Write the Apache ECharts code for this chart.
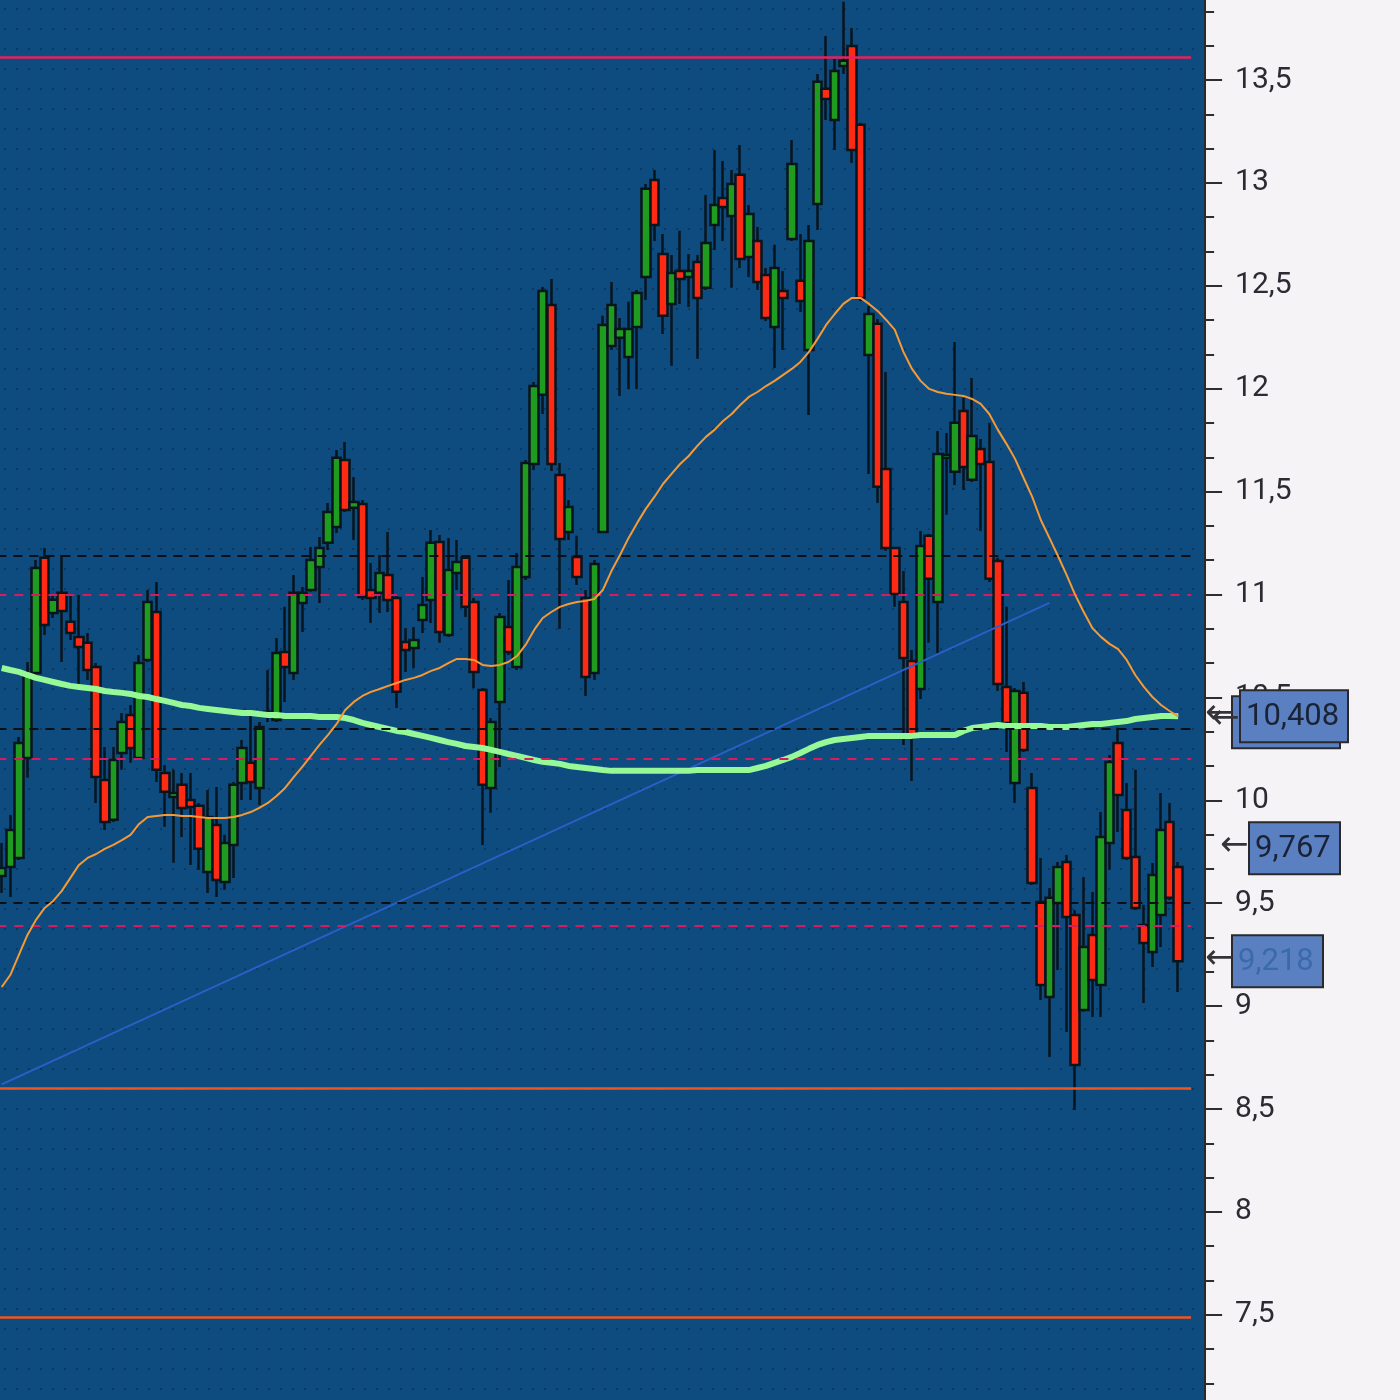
<!DOCTYPE html>
<html><head><meta charset="utf-8">
<script src="https://cdn.jsdelivr.net/npm/echarts@6/dist/echarts.min.js"></script>
<style>html,body{margin:0;padding:0;background:#f6f3f6}#c{width:1400px;height:1400px}</style>
</head><body><div id="c"></div>
<script>
// ---------------- DATA ----------------
const opens = [
9.632,9.676,9.720,10.206,10.619,11.178,10.910,11.008,10.867,10.794,
10.765,10.648,10.099,9.905,10.230,10.415,10.206,10.682,10.915,10.133,
10.016,10.075,10.002,9.973,9.652,9.880,9.603,9.783,10.084,10.182,
10.060,10.410,10.390,10.721,10.619,10.959,11.022,11.134,11.251,11.328,
11.654,11.421,11.440,11.022,11.008,11.095,10.983,10.769,10.740,10.876,
10.973,11.255,10.803,11.105,11.178,10.964,10.536,10.060,10.478,10.842,
10.648,11.085,11.634,11.970,12.407,11.581,11.304,11.182,10.983,10.619,
11.304,12.208,12.247,12.154,12.300,12.543,13.014,12.655,12.412,12.572,
12.543,12.616,12.490,12.796,12.927,12.839,13.039,12.640,12.718,12.553,
12.300,12.475,12.728,12.524,12.188,12.898,13.457,13.306,13.568,13.665,
13.282,12.164,12.315,11.610,11.226,10.964,10.677,10.541,11.285,10.964,
11.664,11.596,11.892,11.557,11.707,11.644,11.163,10.551,10.084,10.522,
10.060,9.506,9.044,9.501,9.700,9.443,8.981,9.346,9.103,9.793,
10.279,9.953,9.725,9.394,9.263,9.443,9.895,9.676];
const closes = [
9.671,9.856,10.279,10.619,11.129,10.852,10.974,10.920,10.813,10.745,
10.633,10.113,9.895,10.196,10.381,10.254,10.667,10.964,10.148,10.041,
10.036,9.963,9.968,9.764,9.919,9.613,9.793,10.075,10.254,10.089,
10.356,10.430,10.716,10.648,11.008,11.008,11.168,11.226,11.401,11.664,
11.411,11.450,10.988,10.983,11.105,10.973,10.527,10.730,10.779,10.949,
11.251,10.818,11.119,11.158,10.940,10.624,10.075,10.381,10.891,10.721,
11.134,11.639,12.013,12.475,11.634,11.270,11.425,11.085,10.599,11.148,
12.310,12.407,12.290,12.290,12.465,12.971,12.796,12.354,12.562,12.533,
12.572,12.441,12.708,12.893,12.883,12.995,12.630,12.849,12.519,12.344,
12.587,12.441,13.092,12.426,12.718,13.491,13.408,13.544,13.593,13.160,
12.441,12.363,11.523,11.226,11.003,10.692,10.318,11.236,11.076,11.683,
11.679,11.834,11.620,11.770,11.634,11.076,10.565,10.376,10.531,10.245,
9.598,9.103,9.526,9.676,9.433,8.714,9.287,9.127,9.822,10.186,
10.026,9.720,9.477,9.307,9.637,9.856,9.526,9.218];
const lows = [
9.550,9.530,9.710,10.109,10.595,10.803,10.886,10.672,10.779,10.551,
10.585,9.987,9.856,9.895,10.148,10.182,10.196,10.672,10.089,9.871,
9.696,9.822,9.686,9.662,9.550,9.530,9.565,9.623,10.002,10.002,
9.977,10.381,10.381,10.478,10.585,10.818,11.013,10.959,11.216,11.299,
11.401,11.265,10.973,10.862,10.910,10.915,10.449,10.624,10.643,10.813,
10.862,10.765,10.794,11.022,10.891,10.546,9.783,9.939,10.162,10.706,
10.633,11.071,11.605,11.877,11.600,10.833,11.265,11.046,10.507,10.585,
11.304,12.188,11.965,11.999,11.999,12.431,12.718,12.266,12.111,12.412,
12.397,12.145,12.480,12.674,12.718,12.490,12.587,12.543,12.480,12.329,
12.101,12.188,12.718,12.373,11.872,12.771,13.306,13.160,13.529,13.097,
12.426,11.586,11.445,11.212,10.940,10.269,10.094,10.492,10.765,10.716,
11.387,11.532,11.508,11.547,11.309,11.061,10.531,10.235,9.987,10.235,
9.589,9.030,8.753,9.176,8.874,8.495,8.972,8.947,8.947,9.662,
9.846,9.710,9.467,9.015,9.190,9.287,9.516,9.069];
const highs = [
9.793,9.929,10.308,10.672,11.168,11.226,10.998,11.192,10.998,10.998,
10.813,10.667,10.259,10.259,10.424,10.463,10.706,11.022,11.061,10.172,
10.148,10.133,10.133,9.987,10.050,10.065,9.832,10.089,10.293,10.424,
10.381,10.633,10.789,10.940,11.095,11.037,11.231,11.280,11.445,11.702,
11.741,11.571,11.459,11.153,11.192,11.304,10.993,10.837,10.842,11.085,
11.314,11.289,11.275,11.265,11.192,10.983,10.546,10.400,10.910,11.071,
11.202,11.654,12.033,12.494,12.533,11.639,11.459,11.285,11.022,11.168,
12.354,12.519,12.344,12.422,12.480,12.995,13.063,12.752,12.650,12.767,
12.655,12.650,12.941,13.160,13.107,13.063,13.184,12.893,12.786,12.587,
12.699,12.572,13.209,12.752,12.796,13.529,13.714,13.602,13.880,13.753,
13.292,12.402,12.339,12.081,11.226,11.114,10.730,11.309,11.294,11.795,
11.785,12.227,11.955,12.052,11.756,11.834,11.178,10.940,10.546,10.575,
10.133,9.720,9.574,9.700,9.734,9.467,9.627,9.555,9.943,10.220,
10.352,10.084,10.148,9.492,9.695,10.036,9.987,9.700];
const maGreen = [
10.643,10.633,10.624,10.609,10.595,10.585,10.575,10.565,10.556,10.551,
10.546,10.541,10.531,10.526,10.522,10.517,10.507,10.502,10.492,10.483,
10.473,10.463,10.458,10.449,10.444,10.439,10.434,10.429,10.424,10.424,
10.419,10.415,10.415,10.410,10.410,10.410,10.410,10.405,10.405,10.405,
10.400,10.390,10.376,10.366,10.356,10.347,10.337,10.332,10.322,10.313,
10.303,10.293,10.283,10.274,10.264,10.259,10.254,10.245,10.235,10.225,
10.216,10.206,10.196,10.187,10.182,10.177,10.167,10.162,10.157,10.152,
10.147,10.143,10.143,10.143,10.143,10.143,10.143,10.143,10.143,10.143,
10.143,10.147,10.147,10.147,10.147,10.147,10.147,10.147,10.157,10.167,
10.182,10.196,10.211,10.230,10.250,10.269,10.283,10.293,10.298,10.303,
10.308,10.313,10.313,10.313,10.313,10.313,10.313,10.317,10.317,10.317,
10.317,10.317,10.337,10.351,10.356,10.361,10.366,10.361,10.361,10.361,
10.361,10.361,10.356,10.356,10.356,10.361,10.366,10.371,10.371,10.376,
10.381,10.385,10.395,10.400,10.405,10.410,10.410,10.408];
const maOrange = [
9.093,9.151,9.249,9.346,9.419,9.477,9.511,9.560,9.623,9.686,
9.720,9.739,9.764,9.783,9.807,9.832,9.885,9.919,9.924,9.929,
9.929,9.924,9.924,9.919,9.914,9.914,9.914,9.919,9.929,9.943,
9.963,9.987,10.021,10.060,10.113,10.162,10.216,10.269,10.318,10.371,
10.439,10.478,10.507,10.527,10.541,10.556,10.570,10.585,10.595,10.609,
10.629,10.643,10.667,10.687,10.687,10.682,10.658,10.653,10.658,10.672,
10.701,10.755,10.828,10.886,10.915,10.940,10.954,10.964,10.969,10.978,
11.022,11.114,11.192,11.275,11.348,11.416,11.474,11.537,11.586,11.634,
11.673,11.722,11.766,11.800,11.843,11.877,11.921,11.960,11.984,12.013,
12.038,12.067,12.096,12.130,12.179,12.242,12.310,12.363,12.412,12.441,
12.441,12.412,12.378,12.334,12.286,12.179,12.096,12.038,11.999,11.984,
11.975,11.970,11.965,11.950,11.926,11.877,11.800,11.732,11.659,11.566,
11.474,11.362,11.275,11.187,11.095,10.998,10.915,10.837,10.794,10.760,
10.735,10.682,10.609,10.551,10.502,10.463,10.434,10.408];
const trendPoints = [[0, 8.620], [122, 10.959]];
const solidLevels = [13.612, 8.602, 7.494];
const blackDashedLevels = [11.192, 10.347, 9.501];
const pinkDashedLevels = [11.003, 10.196, 9.389];
const priceTags = ['10,408', '9,767', '9,218'];
const priceTagValues = [10.408, 9.767, 9.218];
const yMin = 7, yMax = 14, yStep = 0.5;
const categories = opens.map((_, i) => String(i + 1)).concat(['']);

// ---------------- STYLE / LAYOUT ----------------
const solidColors = ['#e6225e', '#f3561c', '#f3561c'];
const candleData = opens.map((o, i) => [o, closes[i], lows[i], highs[i]]);

const pc = document.createElement('canvas');
pc.width = 12; pc.height = 20;
const g = pc.getContext('2d');
g.fillStyle = '#0e4b7e'; g.fillRect(0, 0, 12, 20);
g.fillStyle = '#0a3864'; g.fillRect(4, 8, 2, 2);

const chart = echarts.init(document.getElementById('c'), null, {renderer: 'canvas'});
const markData = [];
solidLevels.forEach((v, i) => markData.push({yAxis: v, lineStyle: {color: solidColors[i], width: 2.5, type: 'solid'}}));
blackDashedLevels.forEach(v => markData.push({yAxis: v, lineStyle: {color: '#0d0f14', width: 2, type: [9, 7]}}));
pinkDashedLevels.forEach(v => markData.push({yAxis: v, lineStyle: {color: '#d81a5e', width: 2, type: [9, 8]}}));

chart.setOption({
  animation: false,
  backgroundColor: '#f6f3f6',
  grid: {left: -2.594, top: -22.9, width: 1193.7, height: 1440.6, containLabel: false, outerBoundsMode: 'none'},
  xAxis: {type: 'category', data: categories, boundaryGap: true, show: false},
  yAxis: {
    type: 'value', min: yMin, max: yMax, interval: yStep, position: 'right', offset: 14,
    axisLine: {show: true, lineStyle: {color: '#2a2a2e', width: 2}},
    axisTick: {show: true, length: 17, lineStyle: {color: '#2e2e32', width: 2}},
    minorTick: {show: true, splitNumber: 3, length: 9, lineStyle: {color: '#2e2e32', width: 2}},
    splitLine: {show: false},
    axisLabel: {margin: 30, fontSize: 30, fontFamily: 'Roboto', color: '#2b2b33',
      formatter: v => String(Math.round(v * 10) / 10).replace('.', ',')}
  },
  series: [
    {type: 'candlestick', name: 'K', data: candleData, barWidth: 9, z: 2,
      itemStyle: {color: '#1f9c20', color0: '#ff2a14', borderColor: '#08151d', borderColor0: '#08151d', borderWidth: 2.5}},
    {type: 'line', name: 'levels', data: [], z: 3, silent: true,
      markLine: {symbol: ['none', 'none'], silent: true, label: {show: false}, data: markData}},
    {type: 'line', name: 'trend', data: trendPoints, symbol: 'none', z: 3,
      lineStyle: {color: '#2a5fc6', width: 2}},
    {type: 'line', name: 'MA slow', data: maGreen, symbol: 'none', z: 4,
      lineStyle: {color: '#96f896', width: 6}},
    {type: 'line', name: 'MA fast', data: maOrange, symbol: 'none', z: 5,
      lineStyle: {color: '#f59a36', width: 2}}
  ],
  graphic: [{id: 'bg', type: 'rect', z: -10, silent: true,
    shape: {x: 0, y: 0, width: 1205, height: 1400}, style: {fill: {image: pc, repeat: 'repeat'}}}]
});

// price tags on the axis, placed through the y scale
const tagLayout = [
  {box: [1240, 108], text: '#1a2236', arrowX: [1205, 1211], back: true},
  {box: [1249, 91], text: '#1a2236', arrowX: [1220], back: false},
  {box: [1232, 91], text: '#3a6aaa', arrowX: [1205], back: false}
];
const gfx = [];
priceTagValues.forEach((v, i) => {
  const y = chart.convertToPixel({yAxisIndex: 0}, v);
  const L = tagLayout[i];
  const h = 52;
  if (L.back) {
    gfx.push({id: 'tb' + i, type: 'rect', z: 100, shape: {x: L.box[0] - 8, y: y - h / 2 + 6, width: L.box[1], height: h},
      style: {fill: '#5a7fc0', stroke: '#2a2a2e', lineWidth: 2}});
  }
  gfx.push({id: 'tf' + i, type: 'rect', z: 101, shape: {x: L.box[0], y: y - h / 2, width: L.box[1], height: h},
    style: {fill: '#5a80c2', stroke: '#2a2a2e', lineWidth: 2}});
  gfx.push({id: 'tt' + i, type: 'text', z: 102, style: {text: priceTags[i], x: L.box[0] + 6, y: y + 1,
    font: '31px Roboto', fill: L.text, textAlign: 'left', textVerticalAlign: 'middle', align: 'left', verticalAlign: 'middle'}});
  L.arrowX.forEach((ax, k) => {
    gfx.push({id: 'ta' + i + '_' + k, type: 'text', z: 102, style: {text: '←', x: ax, y: y - 2 + k * 5,
      font: '34px "DejaVu Sans"', fill: '#333338', textAlign: 'left', textVerticalAlign: 'middle', align: 'left', verticalAlign: 'middle'}});
  });
});
chart.setOption({graphic: gfx});
</script>
</body></html>
